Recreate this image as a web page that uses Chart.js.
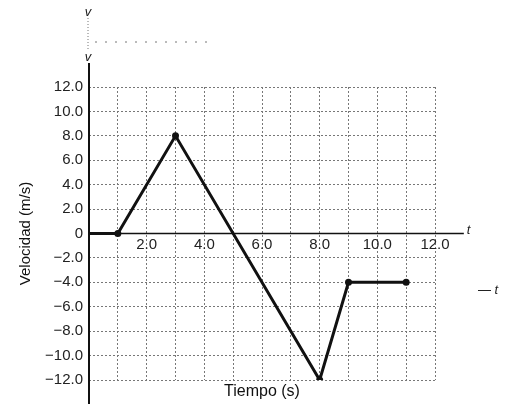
<!DOCTYPE html>
<html>
<head>
<meta charset="utf-8">
<script src="https://cdn.jsdelivr.net/npm/chart.js@4.4.1/dist/chart.umd.min.js"></script>
<style>
  html, body { margin: 0; padding: 0; background: #fff; }
  #wrap { width: 509px; height: 404px; }
</style>
</head>
<body>
<div id="wrap"><canvas id="vt"></canvas></div>
<script>
// velocidad vs tiempo
var tiempo = [0, 1, 3, 8, 9, 11];
var velocidad = [0, 0, 8, -12, -4, -4];
var xTickLabels = [2, 4, 6, 8, 10, 12];

var FONT = 'Liberation Sans, Arial, sans-serif';

function fmt(v) {
    if (v === 0) return '0';
    return (v < 0 ? '\u2212' : '') + Math.abs(v).toFixed(1);
}

var axesPlugin = {
    id: 'axes',
    beforeDatasetsDraw: function (chart) {
        var ctx = chart.ctx, x = chart.scales.x, y = chart.scales.y;
        var x0 = x.getPixelForValue(0), y0 = y.getPixelForValue(0);
        ctx.save();
        ctx.strokeStyle = '#111';
        // eje vertical
        ctx.lineWidth = 2;
        ctx.beginPath(); ctx.moveTo(x0, 63); ctx.lineTo(x0, 404); ctx.stroke();
        // eje horizontal en v = 0
        ctx.lineWidth = 1.5;
        ctx.beginPath(); ctx.moveTo(x0, y0); ctx.lineTo(x.getPixelForValue(13), y0); ctx.stroke();
        // restos del escaneo arriba
        ctx.lineWidth = 1;
        ctx.strokeStyle = '#777';
        ctx.setLineDash([1, 2]);
        ctx.beginPath(); ctx.moveTo(x0 - 1, 18); ctx.lineTo(x0 - 1, 50); ctx.stroke();
        ctx.setLineDash([2, 8]);
        ctx.beginPath(); ctx.moveTo(x0 + 6, 42); ctx.lineTo(210, 42); ctx.stroke();
        ctx.restore();
    },
    afterDraw: function (chart) {
        var ctx = chart.ctx, x = chart.scales.x, y = chart.scales.y;
        var x0 = x.getPixelForValue(0), y0 = y.getPixelForValue(0);
        ctx.save();
        ctx.fillStyle = '#222';
        ctx.font = '15px ' + FONT;
        ctx.textAlign = 'center';
        ctx.textBaseline = 'top';
        xTickLabels.forEach(function (t) {
            ctx.fillText(fmt(t), x.getPixelForValue(t), y0 + 4);
        });
        ctx.font = 'italic 13px ' + FONT;
        ctx.textAlign = 'left';
        ctx.textBaseline = 'middle';
        ctx.fillText('t', x.getPixelForValue(13) + 3, y0 - 3);
        ctx.fillText('\u2014 t', 478, 290);
        ctx.textAlign = 'center';
        ctx.fillText('v', x0 - 1, 12);
        ctx.fillText('v', x0 - 1, 57);
        ctx.restore();
    }
};

var ctx = document.getElementById('vt');
var chart = new Chart(ctx, {
    type: 'line',
    data: {
        datasets: [{
            data: tiempo.map(function (t, i) { return { x: t, y: velocidad[i] }; }),
            borderColor: '#111',
            backgroundColor: '#111',
            borderWidth: 3,
            pointRadius: [0, 3.5, 3.5, 3.5, 3.5, 3.5],
            pointBorderWidth: 0,
            tension: 0
        }]
    },
    options: {
        responsive: true,
        maintainAspectRatio: false,
        animation: false,
        layout: { padding: { top: 87, right: 74, left: 0, bottom: 0 } },
        plugins: { legend: { display: false }, tooltip: { enabled: false } },
        scales: {
            x: {
                type: 'linear',
                min: 0,
                max: 12,
                ticks: { display: false, stepSize: 1 },
                grid: { color: '#777', lineWidth: 1, drawTicks: false },
                border: { display: false, dash: [2, 2] },
                title: {
                    display: true,
                    text: 'Tiempo (s)',
                    color: '#111',
                    font: { family: FONT, size: 16 },
                    padding: { top: 0, bottom: 3 }
                },
                afterFit: function (s) { s.height = 24; }
            },
            y: {
                min: -12,
                max: 12,
                ticks: {
                    stepSize: 2,
                    padding: 6,
                    color: '#222',
                    font: { family: FONT, size: 15 },
                    callback: function (v) { return fmt(v); }
                },
                grid: { color: '#777', lineWidth: 1, drawTicks: false },
                border: { display: false, dash: [2, 2] },
                title: {
                    display: true,
                    text: 'Velocidad (m/s)',
                    color: '#111',
                    font: { family: FONT, size: 15 },
                    padding: { top: 17, bottom: 0 }
                },
                afterFit: function (s) { s.width = 89; }
            }
        }
    },
    plugins: [axesPlugin]
});
</script>
</body>
</html>
